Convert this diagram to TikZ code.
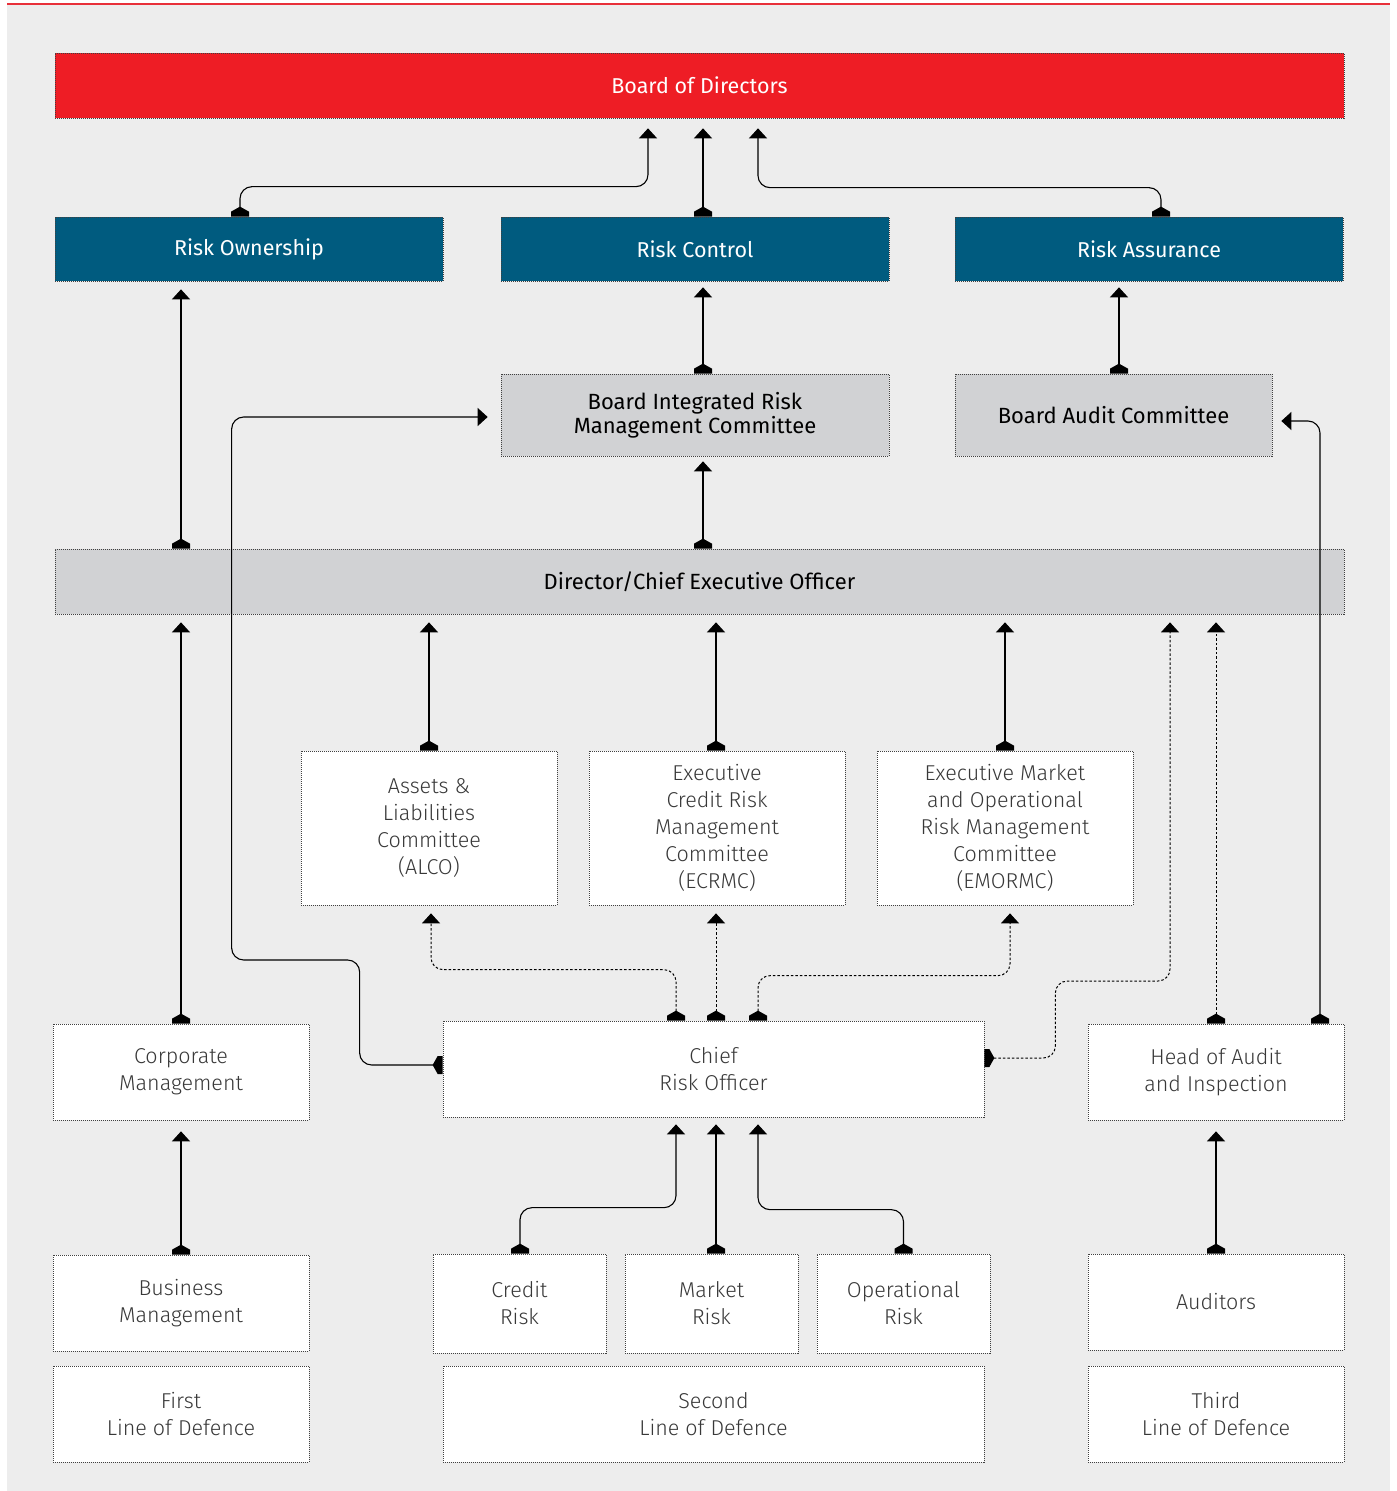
\documentclass[tikz,border=0pt]{standalone}
\usepackage{fontspec}
\setmainfont{Fira Sans Light}
\newfontfamily\regfont{Fira Sans}
\usetikzlibrary{arrows.meta}
\definecolor{bggrey}{HTML}{EDEDED}
\definecolor{bodred}{HTML}{EE1D25}
\definecolor{riskblue}{HTML}{005B7F}
\definecolor{boxgrey}{HTML}{D1D2D4}
\definecolor{topline}{HTML}{E8303A}

% flat foot at the box, short roof toward the line
\pgfdeclarearrow{
  name = House,
  setup code = {
    \pgfarrowssettipend{0pt}
    \pgfarrowssetlineend{-5pt}
    \pgfarrowssetbackend{-10pt}
  },
  drawing code = {
    \pgfpathmoveto{\pgfpoint{0pt}{-9pt}}
    \pgfpathlineto{\pgfpoint{0pt}{9pt}}
    \pgfpathlineto{\pgfpoint{-5pt}{9pt}}
    \pgfpathlineto{\pgfpoint{-10pt}{0pt}}
    \pgfpathlineto{\pgfpoint{-5pt}{-9pt}}
    \pgfpathclose
    \pgfusepathqfill
  }
}

\begin{document}
\begin{tikzpicture}[x=1pt,y=-1pt,
  box/.style={draw=black!75,dash pattern=on 1pt off 1pt,line width=0.7pt,align=center,inner sep=0pt,
    fill=white,text=black!78,font=\fontsize{21.5}{27}\selectfont},
  top/.style={box,fill=bodred,text=white,font=\regfont\fontsize{21.5}{24}\selectfont},
  blu/.style={box,fill=riskblue,text=white,font=\regfont\fontsize{21.5}{24}\selectfont,
    minimum width=388pt,minimum height=64pt},
  grey/.style={box,fill=boxgrey,text=black,font=\regfont\fontsize{22}{24}\selectfont},
  conn/.style={line width=1.1pt,rounded corners=12pt,{House}-{Triangle[width=18pt,length=10pt]},shorten >=8pt},
  dot/.style={conn,line width=1pt,dash pattern=on 2.5pt off 2pt}]
  \useasboundingbox (0,0) rectangle (1397,1491);
  \fill[bggrey] (7,3) rectangle (1390,1491);
  \draw[topline,line width=1.5pt] (7,4) -- (1390,4);

  % board level
  \node[top,minimum width=1289pt,minimum height=65pt] (bod) at (699.5,85.5) {Board of Directors};
  \node[blu] (ro) at (249,249) {Risk Ownership};
  \node[blu] (rc) at (695,249) {Risk Control};
  \node[blu] (ra) at (1149,249) {Risk Assurance};
  \node[grey,minimum width=388pt,minimum height=82pt] (birmc) at (695,415) {Board Integrated Risk\\Management Committee};
  \node[grey,minimum width=317pt,minimum height=82pt] (bac) at (1113.5,415) {Board Audit Committee};
  \node[grey,minimum width=1289pt,minimum height=65pt] (ceo) at (699.5,581.5) {Director/Chief Executive Officer};

  % committees
  \node[box,minimum width=256pt,minimum height=154pt] (alco) at (429,828) {Assets \&\\Liabilities\\Committee\\(ALCO)};
  \node[box,minimum width=256pt,minimum height=154pt] (ecrmc) at (717,828) {Executive\\Credit Risk\\Management\\Committee\\(ECRMC)};
  \node[box,minimum width=256pt,minimum height=154pt] (emormc) at (1005,828) {Executive Market\\and Operational\\Risk Management\\Committee\\(EMORMC)};

  % management
  \node[box,minimum width=256pt,minimum height=96pt] (corp) at (181,1072) {Corporate\\Management};
  \node[box,minimum width=541pt,minimum height=96pt] (cro) at (713.5,1069) {Chief\\Risk Officer};
  \node[box,minimum width=256pt,minimum height=96pt] (hoa) at (1216,1072) {Head of Audit\\and Inspection};
  \node[box,minimum width=256pt,minimum height=96pt] (bm) at (181,1303) {Business\\Management};
  \node[box,minimum width=173pt,minimum height=99pt] (cr) at (519.5,1303.5) {Credit\\Risk};
  \node[box,minimum width=173pt,minimum height=99pt] (mr) at (711.5,1303.5) {Market\\Risk};
  \node[box,minimum width=173pt,minimum height=99pt] (opr) at (903.5,1303.5) {Operational\\Risk};
  \node[box,minimum width=256pt,minimum height=96pt] (aud) at (1216,1302) {Auditors};

  % lines of defence
  \node[box,minimum width=256pt,minimum height=96pt] (first) at (181,1414) {First\\Line of Defence};
  \node[box,minimum width=541pt,minimum height=96pt] (second) at (713.5,1414) {Second\\Line of Defence};
  \node[box,minimum width=256pt,minimum height=96pt] (third) at (1216,1414) {Third\\Line of Defence};

  % to the board
  \draw[conn,shorten >=10pt] ([xshift=-9pt]ro.north) -- ++(0,-30) -| ([xshift=-51.5pt]bod.south);
  \draw[conn,shorten >=10pt] ([xshift=8pt]rc.north) -- ([xshift=8pt]rc.north |- bod.south);
  \draw[conn,shorten >=10pt] ([xshift=12pt]ra.north) -- ++(0,-29) -| ([xshift=58.5pt]bod.south);
  \draw[conn,shorten >=6pt] ([xshift=8pt]birmc.north) -- ([xshift=8pt]rc.south);
  \draw[conn,shorten >=6pt] ([xshift=5.5pt]bac.north) -- ([xshift=5.5pt]bac.north |- ra.south);
  \draw[conn] (corp.north |- ceo.north) -- (corp.north |- ro.south);
  \draw[conn,shorten >=5pt] ([xshift=3.5pt]ceo.north) -- ([xshift=8pt]birmc.south);

  % to the CEO
  \draw[conn] (corp.north) -- (corp.north |- ceo.south);
  \draw[conn] (alco.north) -- (alco.north |- ceo.south);
  \draw[conn] ([xshift=-1pt]ecrmc.north) -- ([xshift=-1pt]ecrmc.north |- ceo.south);
  \draw[conn] (emormc.north) -- (emormc.north |- ceo.south);

  % from the CRO
  \draw[conn,shorten >=13pt] ([yshift=4pt]cro.west) -- ++(-83,0) -- ++(0,-105) -- ++(-128,0) |- ([yshift=-2pt]birmc.west);
  \draw[dot] ([xshift=-37.5pt]cro.north) -- ++(0,-51) -| ([xshift=2pt]alco.south);
  \draw[dot] ([xshift=2.5pt]cro.north) -- ([xshift=-1pt]ecrmc.south);
  \draw[dot] ([xshift=44.5pt]cro.north) -- ++(0,-45) -| ([xshift=5pt]emormc.south);
  \draw[dot] ([yshift=11pt]cro.east) -- ++(71,0) -- ++(0,-77) -| ([xshift=470.5pt]ceo.south);

  % audit
  \draw[dot] (hoa.north) -- (hoa.north |- ceo.south);
  \draw[conn,shorten >=9pt] ([xshift=104pt]hoa.north) |- ([yshift=-6pt]bac.east);

  % bottom row
  \draw[conn,shorten >=11pt] (bm.north) -- (corp.south);
  \draw[conn,shorten >=7pt] ([xshift=0.5pt]cr.north) -- ++(0,-46) -| ([xshift=-37.5pt]cro.south);
  \draw[conn,shorten >=7pt] ([xshift=4.5pt]mr.north) -- ([xshift=2.5pt]cro.south);
  \draw[conn,shorten >=7pt] (opr.north) -- ++(0,-44) -| ([xshift=44.5pt]cro.south);
  \draw[conn,shorten >=11pt] (aud.north) -- (hoa.south);
\end{tikzpicture}
\end{document}
